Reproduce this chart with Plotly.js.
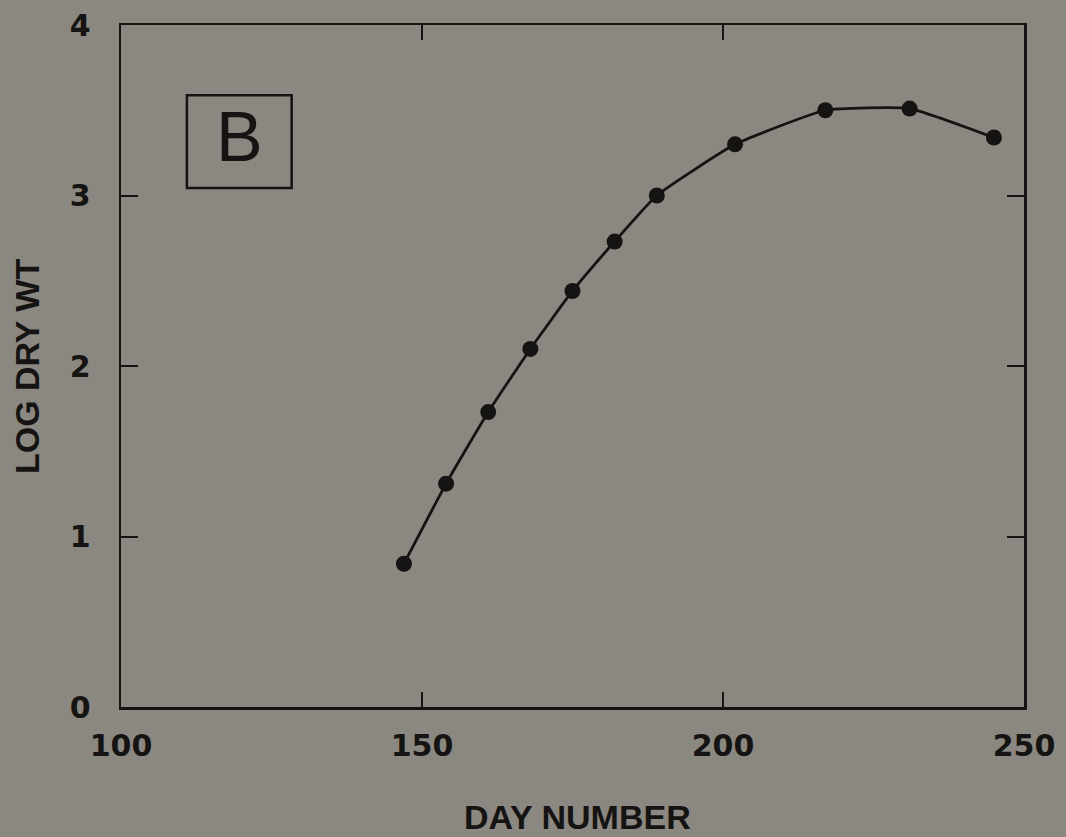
<!DOCTYPE html>
<html>
<head>
<meta charset="utf-8">
<script src="https://cdn.plot.ly/plotly-3.0.1.min.js"></script>
<style>
html,body{margin:0;padding:0;background:#8b8781;}
#chart{width:1066px;height:837px;}
</style>
</head>
<body>
<div id="chart"></div>
<script>
// Data
const dayNumber = [147, 154, 161, 168, 175, 182, 189, 202, 217, 231, 245];
const logDryWt  = [0.84, 1.31, 1.73, 2.10, 2.44, 2.73, 3.00, 3.30, 3.50, 3.51, 3.34];
const xTicks = [100, 150, 200, 250];
const yTicks = [0, 1, 2, 3, 4];
const xTitle = "DAY NUMBER";
const yTitle = "LOG DRY WT";
const panelLabel = "B";

const ink = "#161412";
const bg = "#8b8781";

const trace = {
  x: dayNumber,
  y: logDryWt,
  mode: "lines+markers",
  type: "scatter",
  line: {color: ink, width: 2.8, shape: "spline", smoothing: 0.4},
  marker: {color: ink, size: 16},
  hoverinfo: "x+y"
};

const axisCommon = {
  showgrid: false,
  zeroline: false,
  showline: true,
  linecolor: ink,
  linewidth: 2.5,
  mirror: "ticks",
  ticks: "inside",
  tickcolor: ink,
  tickwidth: 2,
  tickfont: {family: "DejaVu Sans", size: 30, color: ink, weight: "bold"},
  fixedrange: true
};

const layout = {
  width: 1066,
  height: 837,
  paper_bgcolor: bg,
  plot_bgcolor: bg,
  margin: {l: 121, r: 42, t: 25, b: 130},
  showlegend: false,
  xaxis: Object.assign({}, axisCommon, {
    range: [100, 250],
    tickvals: xTicks,
    ticktext: xTicks.map(String),
    ticklen: 15,
    ticklabelstandoff: 10
  }),
  yaxis: Object.assign({}, axisCommon, {
    range: [0, 4],
    tickvals: yTicks,
    ticktext: yTicks.map(String),
    ticklen: 17,
    ticklabelstandoff: 22
  }),
  shapes: [{
    type: "rect", xref: "paper", yref: "paper",
    x0: 0.073, x1: 0.189, y0: 0.761, y1: 0.897,
    line: {color: ink, width: 2.5}
  }],
  annotations: [
    {text: panelLabel, xref: "paper", yref: "paper", x: 0.131, y: 0.836,
     xanchor: "center", yanchor: "middle", showarrow: false,
     font: {family: "Liberation Sans", size: 70, color: ink}},
    {text: xTitle, xref: "paper", yref: "paper", x: 0.505, y: -0.162,
     xanchor: "center", yanchor: "middle", showarrow: false,
     font: {family: "Liberation Sans", size: 34, color: ink, weight: "bold"}},
    {text: yTitle, xref: "paper", yref: "paper", x: -0.104, y: 0.5,
     xanchor: "center", yanchor: "middle", showarrow: false, textangle: -90,
     font: {family: "Liberation Sans", size: 34, color: ink, weight: "bold"}}
  ]
};

Plotly.newPlot("chart", [trace], layout, {displayModeBar: false, staticPlot: true});
</script>
</body>
</html>
